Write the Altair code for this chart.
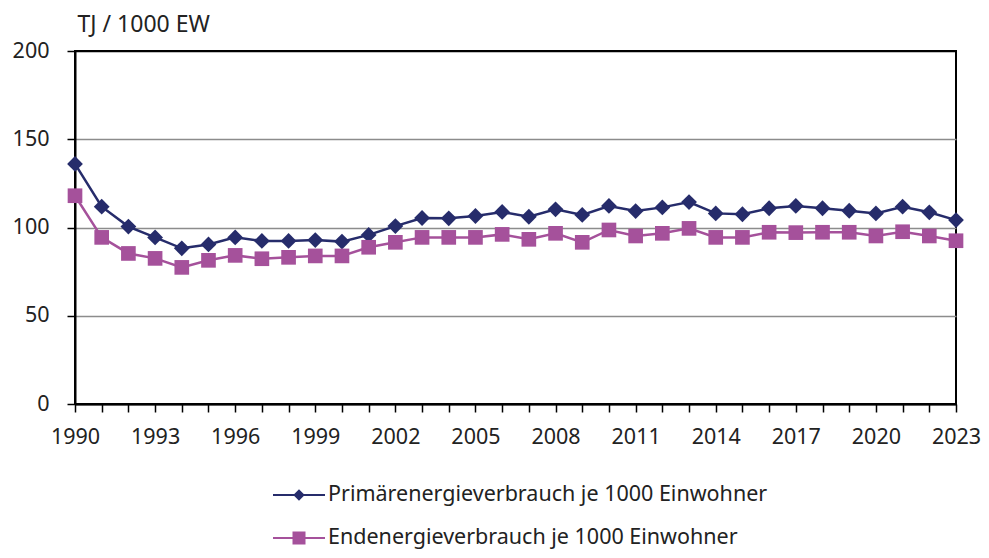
import altair as alt
import pandas as pd

years = list(range(1990, 2024))
primary = [136.0, 111.8, 100.5, 94.4, 88.2, 90.4, 94.4, 92.4, 92.4, 92.9,
           92.0, 95.8, 100.8, 105.4, 105.2, 106.5, 108.8, 106.1, 110.3, 107.1,
           112.2, 109.3, 111.4, 114.4, 108.0, 107.5, 110.9, 112.2, 110.9, 109.5,
           108.0, 111.8, 108.6, 104.2]
final = [118.0, 94.4, 85.3, 82.5, 77.4, 81.4, 84.2, 82.3, 83.1, 83.9,
         83.9, 88.8, 91.6, 94.4, 94.4, 94.4, 96.1, 93.3, 96.7, 91.6,
         98.6, 95.2, 96.7, 99.5, 94.4, 94.4, 97.3, 97.1, 97.3, 97.3,
         95.2, 97.6, 95.2, 92.5]
series_names = ["Primärenergieverbrauch je 1000 Einwohner",
                "Endenergieverbrauch je 1000 Einwohner"]
colors = ["#262C6B", "#A5519B"]
y_ticks = [0, 50, 100, 150, 200]

df = pd.DataFrame({
    "Jahr": years * 2,
    "Wert": primary + final,
    "Reihe": [series_names[0]] * len(years) + [series_names[1]] * len(years),
})

FONT = "Noto Sans"

x_enc = alt.X(
    "Jahr:Q",
    scale=alt.Scale(domain=[1990, 2023], nice=False, zero=False),
    axis=alt.Axis(
        values=years,
        labelExpr="(datum.value - 1990) % 3 == 0 ? toString(datum.value) : ''",
        labelOverlap=False,
        labelFlush=False,
        grid=False,
        labelPadding=14,
        title=None,
    ),
)
y_enc = alt.Y(
    "Wert:Q",
    scale=alt.Scale(domain=[0, 200], nice=False),
    axis=alt.Axis(
        values=y_ticks,
        title="TJ / 1000 EW",
        titleAngle=0,
        titleAlign="left",
        titleBaseline="middle",
        titleX=2,
        titleY=-27,
        titleFontSize=23,
        titleFontWeight="normal",
        titleFont=FONT,
        titleColor="#222222",
        labelPadding=18,
        grid=True,
        gridColor={"condition": {"test": "datum.value == 0 || datum.value == 200",
                                 "value": "#000000"}, "value": "#8c8c8c"},
        gridWidth=1.5,
    ),
)

base = alt.Chart(df).encode(x=x_enc, y=y_enc)

line_p = base.transform_filter(alt.datum.Reihe == series_names[0]).mark_line(
    color=colors[0], strokeWidth=2.5)
pts_p = base.transform_filter(alt.datum.Reihe == series_names[0]).mark_point(
    shape="diamond", filled=True, size=250, color=colors[0], opacity=1)
line_f = base.transform_filter(alt.datum.Reihe == series_names[1]).mark_line(
    color=colors[1], strokeWidth=2.5)
pts_f = base.transform_filter(alt.datum.Reihe == series_names[1]).mark_point(
    shape="square", filled=True, size=215, color=colors[1], opacity=1)

# legend glyphs: line through marker; drawn twice as wide as the layout box
diamond_path = "M-2,-0.08H2V0.08H-2Z M0,-0.44L0.44,0L0,0.44L-0.44,0Z"
square_path = "M-2,-0.08H2V0.08H-2Z M-0.5,-0.5H0.5V0.5H-0.5Z"

leg = alt.Legend(
    title=None,
    orient="none",
    legendX=198,
    legendY=431,
    direction="vertical",
    symbolSize=676,
    symbolOffset=13,
    symbolStrokeWidth=0,
    symbolOpacity=1,
    labelFontSize=21.5,
    labelFont=FONT,
    labelColor="#222222",
    labelOffset=16,
    labelLimit=0,
    rowPadding=19,
    padding=0,
)

legend_layer = base.mark_point(filled=True, opacity=0, size=10).encode(
    color=alt.Color("Reihe:N", scale=alt.Scale(domain=series_names, range=colors),
                    legend=leg),
    shape=alt.Shape("Reihe:N",
                    scale=alt.Scale(domain=series_names, range=[diamond_path, square_path]),
                    legend=leg),
)

chart = alt.layer(line_p, line_f, pts_p, pts_f, legend_layer).properties(
    width=881,
    height=353,
    padding={"left": 67, "top": 43, "right": 25, "bottom": 150},
    autosize=alt.AutoSizeParams(type="none"),
).configure_view(
    stroke="#000000", strokeWidth=2
).configure_axis(
    domainColor="#000000",
    domainWidth=2,
    tickColor="#000000",
    tickWidth=1.5,
    tickSize=8,
    labelFont=FONT,
    labelFontSize=21.5,
    labelColor="#222222",
)

chart.save("out.html", embed_options={"renderer": "svg", "actions": False})
